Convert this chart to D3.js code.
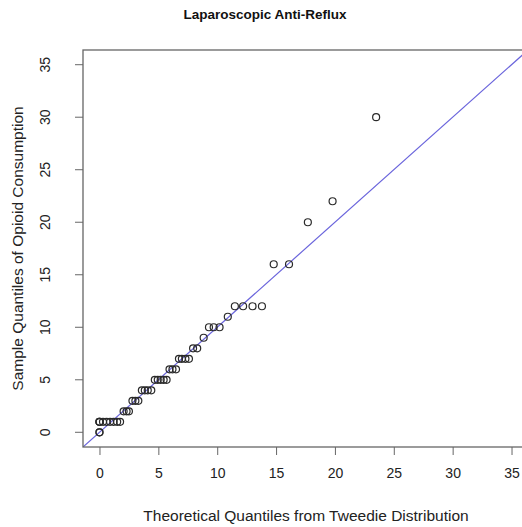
<!DOCTYPE html>
<html>
<head>
<meta charset="utf-8">
<script src="https://cdn.jsdelivr.net/npm/d3@7"></script>
<style>
  body { margin: 0; background: #fff; }
  svg { display: block; font-family: "Liberation Sans", Arial, sans-serif; }
</style>
</head>
<body>
<div id="chart"></div>
<script>
// sorted sample quantiles (opioid consumption) and matching theoretical quantiles
const sample = [0, 0,
  1, 1, 1, 1, 1, 1, 1, 1, 1,
  2, 2, 2,
  3, 3, 3,
  4, 4, 4, 4,
  5, 5, 5, 5, 5,
  6, 6, 6,
  7, 7, 7, 7,
  8, 8,
  9,
  10, 10, 10,
  11,
  12, 12, 12, 12,
  16, 16,
  20, 22, 30];
const theoretical = [0, 0,
  0, 0, 0, 0.3, 0.6, 0.9, 1.2, 1.5, 1.75,
  2.05, 2.3, 2.5,
  2.8, 3.05, 3.3,
  3.6, 3.85, 4.1, 4.4,
  4.7, 4.95, 5.2, 5.45, 5.7,
  5.95, 6.2, 6.5,
  6.75, 7.0, 7.3, 7.6,
  7.95, 8.3,
  8.85,
  9.3, 9.7, 10.2,
  10.9,
  11.5, 12.2, 13.0, 13.8,
  14.8, 16.1,
  17.7, 19.8, 23.5];
const tickValues = [0, 5, 10, 15, 20, 25, 30, 35];

const width = 522, height = 527;
const box = { left: 83, top: 50, right: 528, bottom: 447 };
const font = '"Liberation Sans", Arial, sans-serif';

const svg = d3.select('#chart').append('svg')
    .attr('width', width)
    .attr('height', height);

// R-style limits: 0..35 extended by 4%
const x = d3.scaleLinear().domain([-1.4, 36.4]).range([box.left, box.right]);
const y = d3.scaleLinear().domain([-1.4, 36.4]).range([box.bottom, box.top]);

const plot = svg.append('g');
plot.append('clipPath').attr('id', 'clip')
    .append('rect')
    .attr('x', box.left).attr('y', box.top)
    .attr('width', box.right - box.left).attr('height', box.bottom - box.top);

// reference line y = x
plot.append('line')
    .attr('clip-path', 'url(#clip)')
    .attr('x1', x(-1.4)).attr('y1', y(-1.4))
    .attr('x2', x(36.4)).attr('y2', y(36.4))
    .attr('stroke', '#6a64dc')
    .attr('stroke-width', 1.2);

// points
plot.selectAll('circle')
    .data(sample.map((s, i) => ({ s, t: theoretical[i] })))
    .enter()
    .append('circle')
    .attr('cx', d => x(d.t))
    .attr('cy', d => y(d.s))
    .attr('r', 3.5)
    .attr('fill', 'none')
    .attr('stroke', '#2a2a2a')
    .attr('stroke-width', 1.2);

// frame
svg.append('rect')
    .attr('x', box.left).attr('y', box.top)
    .attr('width', box.right - box.left).attr('height', box.bottom - box.top)
    .attr('fill', 'none')
    .attr('stroke', '#666')
    .attr('stroke-width', 1.3);

// x axis
const xAxis = svg.append('g')
    .attr('transform', `translate(0,${box.bottom})`)
    .call(d3.axisBottom(x).tickValues(tickValues).tickSize(8).tickPadding(13));
xAxis.select('.domain').remove();
xAxis.selectAll('line').attr('stroke', '#666');
xAxis.selectAll('text').attr('font-size', 14).attr('fill', '#222')
    .attr('font-family', font);

// y axis
const yAxis = svg.append('g')
    .attr('transform', `translate(${box.left},0)`)
    .call(d3.axisLeft(y).tickValues(tickValues).tickSize(8));
yAxis.select('.domain').remove();
yAxis.selectAll('line').attr('stroke', '#666');
yAxis.selectAll('text')
    .attr('font-size', 14).attr('fill', '#222')
    .attr('font-family', font)
    .attr('text-anchor', 'middle')
    .attr('x', null).attr('dy', null)
    .attr('transform', d => `translate(-38,${y(d)}) rotate(-90)`)
    .attr('y', 0).attr('dy', '0.35em');
yAxis.selectAll('.tick').attr('transform', null);
yAxis.selectAll('.tick line')
    .attr('y1', d => y(d)).attr('y2', d => y(d));

// labels
svg.append('text')
    .attr('x', 265).attr('y', 19)
    .attr('text-anchor', 'middle')
    .attr('font-size', 13.5).attr('font-weight', 'bold').attr('fill', '#111')
    .text('Laparoscopic Anti-Reflux');

svg.append('text')
    .attr('x', 306).attr('y', 521)
    .attr('text-anchor', 'middle')
    .attr('font-size', 15.5).attr('fill', '#222')
    .text('Theoretical Quantiles from Tweedie Distribution');

svg.append('text')
    .attr('transform', `translate(23,${(box.top + box.bottom) / 2}) rotate(-90)`)
    .attr('text-anchor', 'middle')
    .attr('font-size', 15.5).attr('fill', '#222')
    .text('Sample Quantiles of Opioid Consumption');
</script>
</body>
</html>
